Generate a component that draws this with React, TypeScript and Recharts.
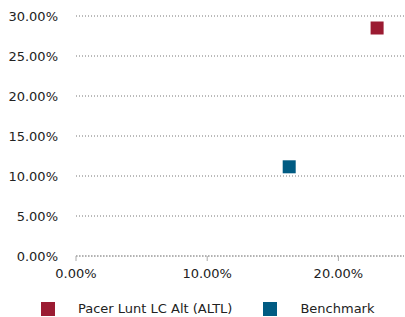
import React from 'react';
import { ScatterChart, Scatter, XAxis, YAxis, CartesianGrid, Legend } from 'recharts';

// risk (x) vs return (y), in percent
const seriesNames = ['Pacer Lunt LC Alt (ALTL)', 'Benchmark'];
const seriesColors = ['#9b1b32', '#005b82'];
const riskValues = [22.95, 16.25];
const returnValues = [28.5, 11.15];
const xTicks = [0, 10, 20];
const yTicks = [0, 5, 10, 15, 20, 25, 30];

const fontFamily = '"DejaVu Sans", sans-serif';

const SquareShape = (props: any) => {
  const { cx, cy, fill } = props;
  return <rect x={cx - 6.5} y={cy - 6.5} width={13} height={13} fill={fill} />;
};

const CustomLegend = () => (
  <div style={{ display: 'flex', alignItems: 'center', paddingLeft: 41, width: 405, boxSizing: 'border-box', whiteSpace: 'nowrap', fontFamily, fontSize: 13, color: '#222', lineHeight: '14px' }}>
    {seriesNames.map((name, i) => (
      <div key={name} style={{ display: 'flex', alignItems: 'center', flexShrink: 0, marginRight: 31 }}>
        <span style={{ display: 'inline-block', width: 14, height: 14, background: seriesColors[i], marginRight: 23 }} />
        <span>{name}</span>
      </div>
    ))}
  </div>
);

const fmt = (v: number) => `${v.toFixed(2)}%`;

export default function App() {
  const series = seriesNames.map((name, i) => ({
    name,
    color: seriesColors[i],
    data: [{ risk: riskValues[i], ret: returnValues[i] }],
  }));

  return (
    <div style={{ position: 'absolute', left: 0, top: 0, background: '#fff', width: 405, height: 317, overflow: 'hidden' }}>
      <ScatterChart width={405} height={317} margin={{ top: 16, right: 1, left: 0, bottom: 0 }}>
        <CartesianGrid vertical={false} stroke="#777" strokeDasharray="1 2" />
        <XAxis
          type="number"
          dataKey="risk"
          domain={[0, 25]}
          ticks={xTicks}
          tickFormatter={fmt}
          axisLine={{ stroke: '#aaa', strokeDasharray: '2 1' }}
          tickLine={{ stroke: '#aaa' }}
          tickSize={5}
          tickMargin={8}
          height={41}
          tick={{ fill: '#222', fontSize: 13, fontFamily }}
        />
        <YAxis
          type="number"
          dataKey="ret"
          domain={[0, 30]}
          ticks={yTicks}
          tickFormatter={fmt}
          axisLine={false}
          tickLine={false}
          tickMargin={12}
          width={76}
          tick={{ fill: '#222', fontSize: 13, fontFamily }}
        />
        <Legend verticalAlign="bottom" align="left" content={<CustomLegend />} wrapperStyle={{ bottom: -5, left: 0, width: 405 }} height={20} />
        {series.map((s) => (
          <Scatter
            key={s.name}
            name={s.name}
            data={s.data}
            fill={s.color}
            shape={<SquareShape />}
            isAnimationActive={false}
          />
        ))}
      </ScatterChart>
    </div>
  );
}
